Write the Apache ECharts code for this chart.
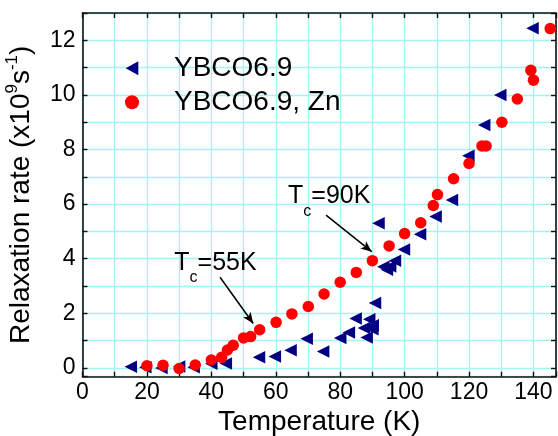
<!DOCTYPE html>
<html>
<head>
<meta charset="utf-8">
<script src="https://cdn.jsdelivr.net/npm/echarts@6/dist/echarts.min.js"></script>
<style>
html,body{margin:0;padding:0;background:#fff;}
#chart{width:558px;height:436px;}
</style>
</head>
<body>
<div id="chart"></div>
<script>
// Series names
const seriesNames = ['YBCO6.9', 'YBCO6.9, Zn'];

// YBCO6.9 : [temperature K, relaxation rate x1e9 s^-1]
const ybcoTemp = [15, 19.5, 24.5, 30, 34.5, 40, 44.5, 54.8, 59.7, 64.6, 69.6, 74.7, 80, 82.7, 84.8, 87.4, 88.2, 89.0, 90.1, 90.0, 90.8, 91.9, 93.4, 94.5, 95.5, 97, 99.8, 104.8, 109.6, 114.7, 119.8, 124.7, 129.7, 139.7];
const ybcoRate = [0.04, 0.03, 0.0, 0.05, 0.03, 0.15, 0.16, 0.39, 0.42, 0.65, 1.07, 0.6, 1.1, 1.3, 1.81, 1.46, 1.12, 1.78, 1.56, 1.42, 2.38, 5.3, 3.71, 3.6, 3.72, 3.93, 4.34, 4.9, 5.55, 6.15, 7.77, 8.9, 10.0, 12.44];

// YBCO6.9, Zn
const znTemp = [20, 25, 30, 35, 40, 43.2, 45, 46.8, 50, 52.2, 55, 60.1, 65, 70.1, 75, 80, 85, 90, 95.2, 100, 105, 108.9, 110.2, 115.2, 120, 124, 125.3, 130.2, 135, 139.2, 140, 145.2];
const znRate = [0.08, 0.1, -0.02, 0.11, 0.29, 0.39, 0.66, 0.83, 1.1, 1.15, 1.4, 1.67, 1.98, 2.25, 2.71, 3.14, 3.5, 3.93, 4.47, 4.92, 5.32, 5.95, 6.35, 6.93, 7.49, 8.13, 8.13, 9.0, 9.85, 10.9, 10.54, 12.43];

// Axis ranges and labels
const xRange = [0, 147];
const yRange = [-0.32, 13];
const xTickLabels = [0, 20, 40, 60, 80, 100, 120, 140];
const yTickLabels = [0, 2, 4, 6, 8, 10, 12];

// Annotations: [text parts], label anchor [x,y], arrow start [x,y], arrow end [x,y]
const annoTexts = [['T', 'c', '=90K'], ['T', 'c', '=55K']];
const annoAnchor = [[63.8, 6.75], [28.5, 4.30]];
const arrowStart = [[75.6, 5.6], [42.7, 3.32]];
const arrowEnd = [[89.8, 4.26], [53.0, 1.63]];

const FONT = '"Liberation Sans", Arial, Helvetica, sans-serif';
const GRIDC = '#a4f4f4';
const LEFT_TRIANGLE = 'path://M0,0.5 L0.9,0 L0.9,1 Z';

const zip = (a, b) => a.map((v, i) => [v, b[i]]);

const chart = echarts.init(document.getElementById('chart'), null, {renderer: 'canvas'});

const axisCommon = {
  axisLine: {show: true, onZero: false, lineStyle: {color: '#111', width: 1.6}},
  axisTick: {show: true, inside: true, length: 5, lineStyle: {color: '#111', width: 1.4}},
};

const option = {
  animation: false,
  backgroundColor: '#fff',
  textStyle: {fontFamily: FONT},
  grid: {left: 82.5, right: 2, top: 13, bottom: 59.3, containLabel: false, outerBoundsMode: 'none'},
  legend: {
    orient: 'vertical',
    left: 125, top: 54.3, padding: 0,
    itemWidth: 14, itemHeight: 14, itemGap: 6,
    textStyle: {fontSize: 28, color: '#000', fontFamily: FONT, padding: [0, 0, 0, 30]},
    data: [
      {name: seriesNames[0], icon: LEFT_TRIANGLE},
      {name: seriesNames[1], icon: 'circle'}
    ]
  },
  xAxis: [{
    type: 'value', min: xRange[0], max: xRange[1], minInterval: 10, maxInterval: 10, interval: 10,
    position: 'bottom',
    ...axisCommon,
    splitLine: {show: true, lineStyle: {color: GRIDC, width: 1.3}},
    axisLabel: {
      show: true, margin: 4, fontSize: 23, color: '#000', fontFamily: FONT,
      formatter: v => xTickLabels.includes(v) ? String(v) : ''
    },
    name: 'Temperature (K)', nameLocation: 'middle', nameGap: 23,
    nameTextStyle: {fontSize: 28, color: '#000', fontFamily: FONT}
  }, {
    type: 'value', min: xRange[0], max: xRange[1], interval: 10, position: 'top',
    ...axisCommon, splitLine: {show: false}, axisLabel: {show: false}
  }],
  yAxis: [{
    type: 'value', min: yRange[0], max: yRange[1], minInterval: 1, maxInterval: 1, splitNumber: 13,
    position: 'left',
    ...axisCommon,
    splitLine: {show: true, lineStyle: {color: GRIDC, width: 1.3}},
    axisLabel: {
      show: true, margin: 7, fontSize: 23, color: '#000', fontFamily: FONT,
      formatter: v => yTickLabels.includes(Math.round(v * 1000) / 1000) ? String(Math.round(v)) : ''
    },
    name: 'Relaxation rate (x10{s|9}s{s|-1})', nameLocation: 'middle', nameRotate: 90, nameGap: 40,
    nameTextStyle: {
      fontSize: 28, color: '#000', fontFamily: FONT, lineHeight: 35,
      rich: {s: {fontSize: 17, lineHeight: 17, verticalAlign: 'top', color: '#000', fontFamily: FONT}}
    }
  }, {
    type: 'value', min: yRange[0], max: yRange[1], minInterval: 1, maxInterval: 1, splitNumber: 13,
    position: 'right',
    ...axisCommon, splitLine: {show: false}, axisLabel: {show: false}
  }],
  series: [{
    name: seriesNames[0],
    type: 'scatter',
    symbol: 'triangle', symbolRotate: 90, symbolSize: 12.5,
    itemStyle: {color: '#000080', opacity: 1},
    data: zip(ybcoTemp, ybcoRate),
    z: 3
  }, {
    name: seriesNames[1],
    type: 'scatter',
    symbol: 'circle', symbolSize: 11.5,
    itemStyle: {color: '#ff0000', opacity: 1},
    data: zip(znTemp, znRate),
    z: 4,
    markLine: {
      silent: true, animation: false,
      symbol: ['none', 'arrow'], symbolSize: [8, 11],
      lineStyle: {color: '#000', width: 1.5, type: 'solid'},
      itemStyle: {color: '#000'},
      label: {show: false},
      emphasis: {disabled: true},
      data: arrowStart.map((s, i) => [{coord: s, symbol: 'none'}, {coord: arrowEnd[i], symbol: 'arrow', symbolSize: [7, 11]}])
    },
    markPoint: {
      silent: true, animation: false,
      symbol: 'circle', symbolSize: 0,
      data: annoAnchor.map((c, i) => ({
        coord: c,
        label: {
          show: true, position: [0, 0], align: 'left', verticalAlign: 'top',
          formatter: '{a|' + annoTexts[i][0] + '}{b|' + annoTexts[i][1] + '}{a|' + annoTexts[i][2] + '}',
          rich: {
            a: {fontSize: 25, lineHeight: 25, verticalAlign: 'top', color: '#000', fontFamily: FONT},
            b: {fontSize: 16, lineHeight: 16, verticalAlign: 'top', padding: [19.5, 0, 0, 0], color: '#000', fontFamily: FONT}
          }
        }
      }))
    }
  }]
};

chart.setOption(option);
</script>
</body>
</html>
